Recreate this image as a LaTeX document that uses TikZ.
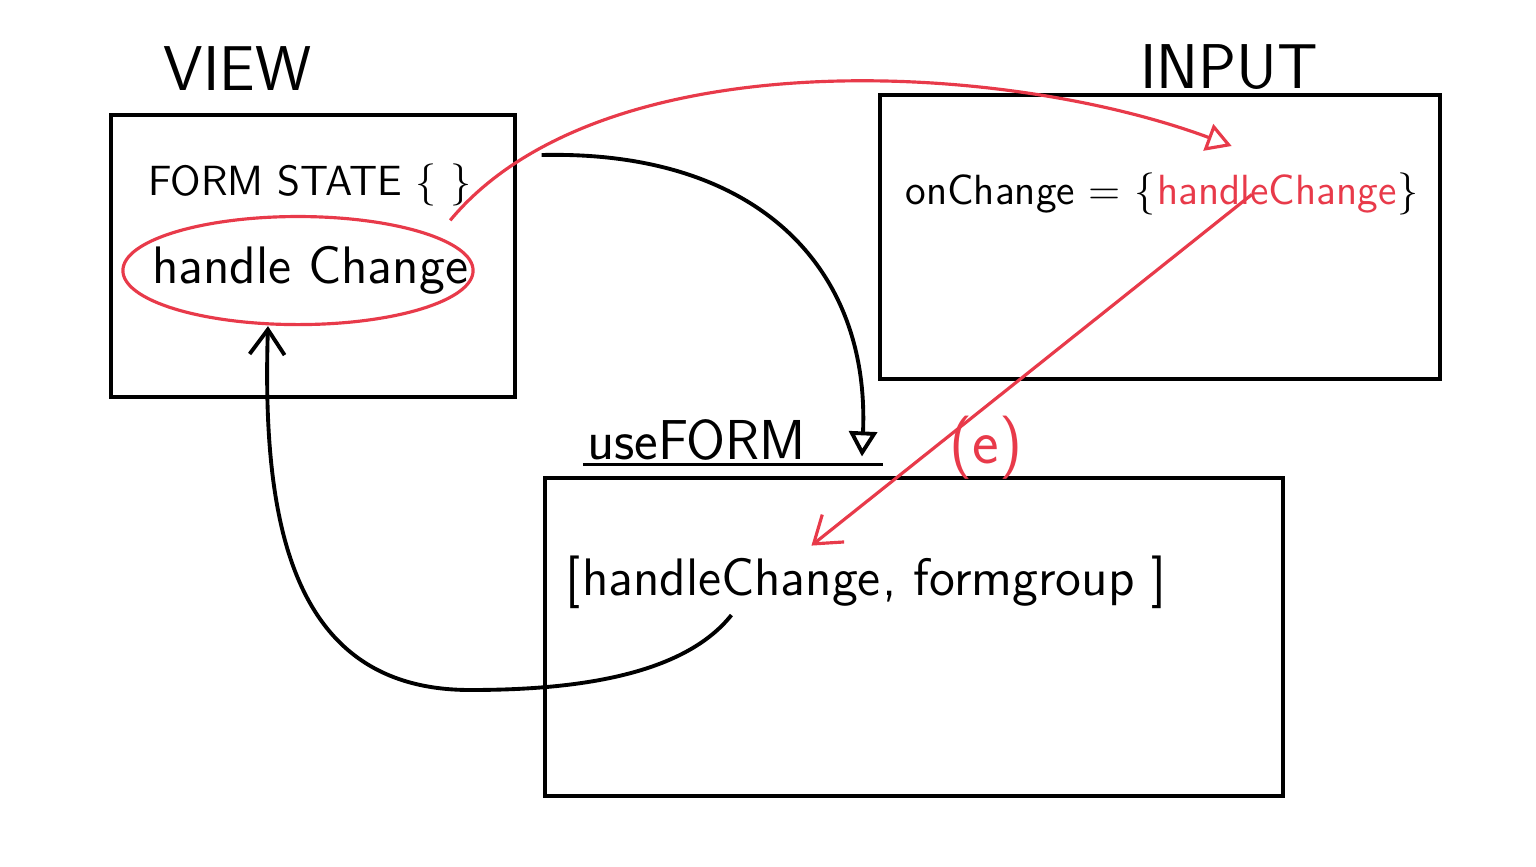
\documentclass[tikz,border=0pt]{standalone}
\usepackage{tikz}
\usetikzlibrary{arrows.meta,positioning,shapes.geometric}
\usepackage{xcolor}
\definecolor{penred}{RGB}{232,58,74}
\tikzset{
  panel/.style={draw=black, line width=1.1pt},
  title/.style={font=\sffamily\fontsize{18}{22}\selectfont, inner sep=1pt},
  code/.style={font=\sffamily\fontsize{15}{18}\selectfont, inner sep=1pt, inner xsep=0pt},
  smallcode/.style={font=\sffamily\fontsize{12}{15}\selectfont, inner sep=1pt, inner xsep=0pt},
  ring/.style={draw=penred, line width=0.9pt, ellipse, minimum width=3.5cm, minimum height=1.08cm},
  arrow/.style={-{Straight Barb[length=2.5mm,width=3.5mm]}, line width=1.1pt},
  openarrow/.style={-{Triangle[open,length=2.5mm,width=2.8mm]}, line width=1.1pt},
  redarrow/.style={-{Straight Barb[length=2.5mm,width=3.5mm]}, line width=0.9pt, draw=penred},
  redopenarrow/.style={-{Triangle[open,length=2.5mm,width=2.8mm]}, line width=0.9pt, draw=penred}
}
\begin{document}
\begin{tikzpicture}[x=0.01cm, y=-0.01cm]
\useasboundingbox (0,0) rectangle (1536,867);
% the three boxes
\node[panel, minimum width=4.03cm, minimum height=2.82cm] (view) at (313,256) {};
\node[panel, minimum width=5.6cm, minimum height=2.83cm] (input) at (1160,237) {};
\node[panel, minimum width=7.38cm, minimum height=3.17cm] (useform) at (914,637) {};
% titles
\node[title, above right=0.18cm and 0.5cm of view.north west] (viewlbl) {VIEW};
\node[title, above left=0cm and 1.2cm of input.north east] (inputlbl) {INPUT};
\node[title, font=\sffamily\fontsize{16}{19}\selectfont, above right=0.12cm and 0.4cm of useform.north west] (useformlbl) {useFORM};
\node[title, text=penred, right=1.35cm of useformlbl, yshift=-0.08cm] (evt) {(e)};
\draw[line width=1.1pt] (useformlbl.south west) -- ++(300,0);
% view
\node[smallcode] (formstate) at (310,185) {FORM STATE \{ \}};
\node[code, below=0.32cm of formstate] (hcview) {handle Change};
\node[ring] (ring) at ([xshift=-0.12cm]hcview.center) {};
% input
\node[smallcode, anchor=base west] (onchg) at (905,205) {onChange = \{};
\node[smallcode, text=penred, anchor=base west] (hcinput) at (onchg.base east) {handleChange};
\node[smallcode, anchor=base west] (rbrace) at (hcinput.base east) {\}};
% useForm
\node[code, anchor=base west] (lbrack) at (565,595) {[};
\node[code, anchor=base west] (hcform) at (lbrack.base east) {handleChange};
\node[code, anchor=base west] (rest) at (hcform.base east) {, formgroup ]};
% connectors
\draw[redopenarrow] ([xshift=-0.22cm, yshift=-0.1cm]formstate.south east) .. controls (600,40) and (1000,60) .. ([xshift=0.75cm, yshift=0.25cm]hcinput.north west);
\draw[redarrow] ([xshift=-0.25cm]hcinput.center) -- ([xshift=-0.7cm, yshift=0.08cm]hcform.north east);
\draw[openarrow] ([xshift=0.25cm, yshift=-0.42cm]view.north east) .. controls (760,150) and (870,270) .. ([xshift=-0.52cm, yshift=0.2cm]useform.north);
\draw[arrow] ([yshift=-0.05cm]hcform.south) .. controls (680,680) and (560,690) .. (470,690) .. controls (290,690) and (262,520) .. ([xshift=-0.3cm]ring.south);
\end{tikzpicture}
\end{document}
